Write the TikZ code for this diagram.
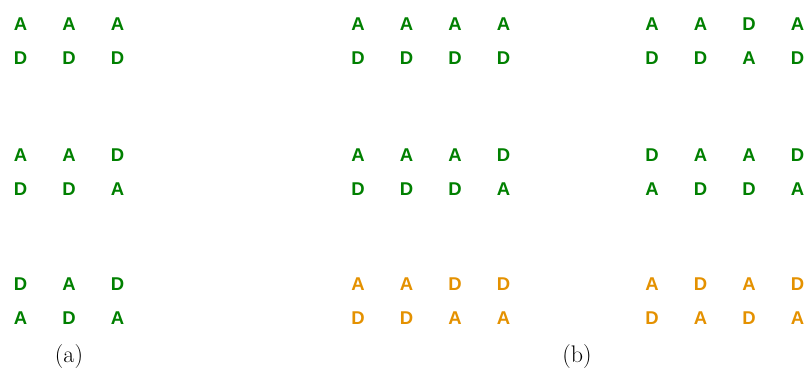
\documentclass[tikz,border=0pt]{standalone}
\usepackage{fontspec}
\setsansfont{Liberation Sans}
\definecolor{agreen}{RGB}{0,128,0}
\definecolor{aorange}{RGB}{228,145,0}
\tikzset{
  gl/.style={inner sep=0pt, anchor=base, text=agreen,
    font=\sffamily\bfseries\fontsize{18.5}{21}\selectfont},
  ol/.style={inner sep=0pt, anchor=base, text=aorange,
    font=\sffamily\bfseries\fontsize{18.5}{21}\selectfont},
  captext/.style={inner sep=0pt, anchor=base, font=\fontsize{24}{28}\selectfont},
}
% one row of letters: name prefix, first column x, baseline y, style, letters
\newcommand{\letterrow}[5]{%
  \foreach \t [count=\i] in {#5}
    \node[#4] (#1\i) at ({#2+(\i-1)*48.5},#3) {\t};%
}
\begin{document}
\begin{tikzpicture}[x=1pt,y=-1pt]
\useasboundingbox (0,0) rectangle (805,373);
\clip (0,0) rectangle (805,373);
% (a): three columns
\letterrow{aAt}{20.5}{30.6}{gl}{A,A,A}
\letterrow{aAb}{20.5}{64.6}{gl}{D,D,D}
\letterrow{aBt}{20.5}{161.6}{gl}{A,A,D}
\letterrow{aBb}{20.5}{195.6}{gl}{D,D,A}
\letterrow{aCt}{20.5}{290.6}{gl}{D,A,D}
\letterrow{aCb}{20.5}{324.6}{gl}{A,D,A}
% (b), left half: four columns
\letterrow{mAt}{358}{30.6}{gl}{A,A,A,A}
\letterrow{mAb}{358}{64.6}{gl}{D,D,D,D}
\letterrow{mBt}{358}{161.6}{gl}{A,A,A,D}
\letterrow{mBb}{358}{195.6}{gl}{D,D,D,A}
\letterrow{mCt}{358}{290.6}{ol}{A,A,D,D}
\letterrow{mCb}{358}{324.6}{ol}{D,D,A,A}
% (b), right half: four columns
\letterrow{rAt}{652}{30.6}{gl}{A,A,D,A}
\letterrow{rAb}{652}{64.6}{gl}{D,D,A,D}
\letterrow{rBt}{652}{161.6}{gl}{D,A,A,D}
\letterrow{rBb}{652}{195.6}{gl}{A,D,D,A}
\letterrow{rCt}{652}{290.6}{ol}{A,D,A,D}
\letterrow{rCb}{652}{324.6}{ol}{D,A,D,A}
% captions
\node[captext] (capa) at (69,362) {(a)};
\node[captext] (capb) at (577,362) {(b)};
\end{tikzpicture}
\end{document}
